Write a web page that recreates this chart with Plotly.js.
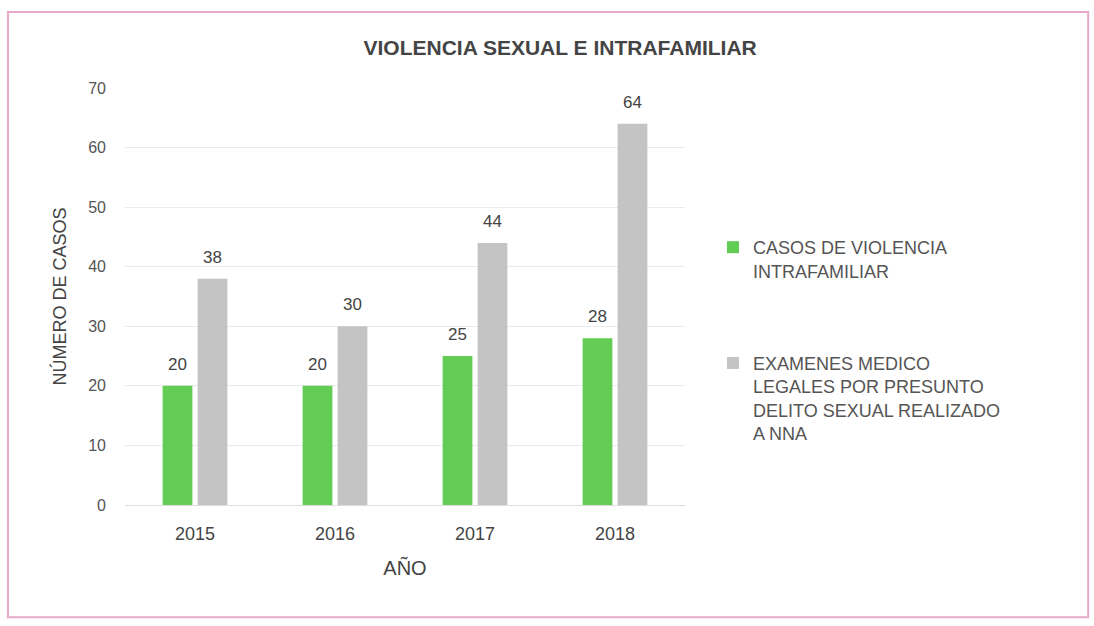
<!DOCTYPE html>
<html>
<head>
<meta charset="utf-8">
<script src="https://cdn.plot.ly/plotly-3.0.1.min.js"></script>
<style>
  body { margin: 0; background: #fff; }
  #chart { width: 1094px; height: 626px; }
</style>
</head>
<body>
<div id="chart"></div>
<script>
// data
let years = ["2015", "2016", "2017", "2018"];
let intrafamiliar = [20, 20, 25, 28];
let examenes = [38, 30, 44, 64];
let seriesNames = [
  "CASOS DE VIOLENCIA<br>INTRAFAMILIAR",
  "EXAMENES MEDICO<br>LEGALES POR PRESUNTO<br>DELITO SEXUAL REALIZADO<br>A NNA"
];

var font = "Liberation Sans, Arial, sans-serif";

var data = [
  {
    type: "bar",
    x: years,
    y: intrafamiliar,
    name: seriesNames[0],
    legendgroup: "a",
    marker: { color: "#62cc55" },
  },
  {
    type: "bar",
    x: years,
    y: examenes,
    name: seriesNames[1],
    legendgroup: "b",
    marker: { color: "#c4c4c4" },
  },
];

// value labels a little above each bar (x = category index on the axis)
var labels = [];
years.forEach((yr, i) => {
  labels.push({ x: i, y: intrafamiliar[i], text: String(intrafamiliar[i]), xshift: -18 });
  labels.push({ x: i, y: examenes[i], text: String(examenes[i]), xshift: 17 });
});
labels.forEach((a) => {
  a.xref = "x";
  a.yref = "y";
  a.yanchor = "bottom";
  a.yshift = 10;
  a.showarrow = false;
  a.font = { size: 17, color: "#444" };
});

var layout = {
  width: 1094,
  height: 626,
  font: { family: font, color: "#444" },
  paper_bgcolor: "#fff",
  plot_bgcolor: "#fff",
  margin: { l: 125, r: 409, t: 88, b: 121 },
  title: {
    text: "<b>VIOLENCIA SEXUAL E INTRAFAMILIAR</b>",
    font: { size: 21, color: "#444", family: font },
    x: 0.512,
    xanchor: "center",
    y: 0.935,
  },
  barmode: "group",
  bargap: 0.5,
  bargroupgap: 0.15,
  showlegend: true,
  legend: {
    x: 1.05,
    y: 0.662,
    xanchor: "left",
    yanchor: "top",
    valign: "top",
    font: { size: 18, color: "#555" },
    tracegroupgap: 66,
    itemwidth: 30,
  },
  xaxis: {
    type: "category",
    range: [-0.5, 3.5],
    tickfont: { size: 18, color: "#444" },
    showline: true,
    linecolor: "#ddd",
    ticks: "",
    ticklabelstandoff: 12,
    title: { text: "AÑO", font: { size: 20, color: "#444" }, standoff: 18 },
  },
  yaxis: {
    range: [0, 70],
    dtick: 10,
    tickfont: { size: 16, color: "#555" },
    gridcolor: "#eaeaea",
    zeroline: false,
    ticks: "",
    ticklabelstandoff: 18,
    title: { text: "NÚMERO DE CASOS", font: { size: 18, color: "#444" }, standoff: 16 },
  },
  annotations: labels,
  shapes: [
    {
      type: "rect",
      xref: "paper",
      yref: "paper",
      x0: -0.209,
      x1: 1.72,
      y0: -0.269,
      y1: 1.182,
      line: { color: "#e6a9c8", width: 2 },
    },
  ],
};

Plotly.newPlot("chart", data, layout, { displayModeBar: false });
</script>
</body>
</html>
